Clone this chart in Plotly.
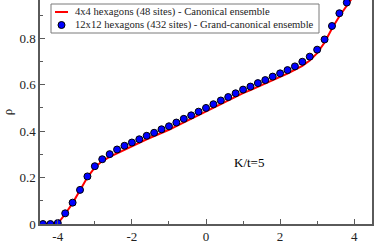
import plotly.graph_objects as go

# Chemical potential grid (mu/t)
x_vals = [-4.4, -4.2, -4.0, -3.8, -3.6, -3.4, -3.2, -3.0, -2.8, -2.6, -2.4, -2.2,
          -2.0, -1.8, -1.6, -1.4, -1.2, -1.0, -0.8, -0.6, -0.4, -0.2, 0.0, 0.2,
          0.4, 0.6, 0.8, 1.0, 1.2, 1.4, 1.6, 1.8, 2.0, 2.2, 2.4, 2.6, 2.8, 3.0,
          3.2, 3.4, 3.6, 3.8, 4.0, 4.2, 4.4]

# 4x4 hexagons (48 sites) - canonical ensemble (line)
rho_canonical = [0.0, 0.0, 0.002, 0.043, 0.09, 0.145, 0.201, 0.244, 0.271, 0.289, 0.305, 0.321,
                 0.336, 0.350, 0.365, 0.378, 0.393, 0.406, 0.422, 0.438, 0.453, 0.469, 0.485, 0.501,
                 0.517, 0.532, 0.548, 0.564, 0.577, 0.592, 0.605, 0.620, 0.634, 0.648, 0.663, 0.681, 0.704, 0.736,
                 0.782, 0.842, 0.895, 0.944, 0.986, 1.0, 1.0]

# 12x12 hexagons (432 sites) - grand-canonical ensemble (markers)
rho_grand = [0.0, 0.0, 0.004, 0.046, 0.092, 0.147, 0.205, 0.249, 0.279, 0.301, 0.321, 0.337,
             0.351, 0.365, 0.380, 0.393, 0.408, 0.421, 0.437, 0.453, 0.468, 0.484, 0.500, 0.516,
             0.532, 0.547, 0.563, 0.579, 0.592, 0.607, 0.620, 0.635, 0.649, 0.663, 0.679, 0.699, 0.721, 0.751,
             0.795, 0.853, 0.908, 0.954, 0.996, 1.0, 1.0]

series_names = ["4x4 hexagons (48 sites) - Canonical ensemble",
                "12x12 hexagons (432 sites) - Grand-canonical ensemble"]

x_tickvals = [-4, -2, 0, 2, 4]
x_ticktext = ["-4", "-2", "0", "2", "4"]
y_tickvals = [0, 0.2, 0.4, 0.6, 0.8]
y_ticktext = ["0", "0.2", "0.4", "0.6", "0.8"]

serif = "Liberation Serif, Times New Roman, serif"
axis_color = "#5a5a5a"
line_color = "#ff0000"
marker_color = "#0000ff"

W, H = 374, 243
ML, MR, MT, MB = 40, 2, 0, 19
PW, PH = W - ML - MR, H - MT - MB


def px(xp):
    return (xp - ML) / PW


def py(yp):
    return (H - MB - yp) / PH


fig = go.Figure()
fig.add_trace(go.Scatter(
    x=x_vals, y=rho_canonical, mode="lines",
    line=dict(color=line_color, width=2),
    name=series_names[0]))
fig.add_trace(go.Scatter(
    x=x_vals, y=rho_grand, mode="markers",
    marker=dict(color=marker_color, size=7, line=dict(color="#000000", width=1)),
    name=series_names[1]))

fig.add_annotation(x=1.15, y=0.264, text="K/t=5", showarrow=False,
                   font=dict(family=serif, size=13, color="#000000"))

# Legend box (drawn to match the compact original layout)
shapes = [
    dict(type="rect", xref="paper", yref="paper",
         x0=px(51), x1=px(319), y0=py(33), y1=py(4),
         line=dict(color="#7a7a7a", width=1), fillcolor="white", layer="above"),
    dict(type="line", xref="paper", yref="paper",
         x0=px(55), x1=px(68), y0=py(12), y1=py(12),
         line=dict(color=line_color, width=2), layer="above"),
    dict(type="circle", xref="paper", yref="paper",
         xsizemode="pixel", ysizemode="pixel",
         xanchor=px(61.5), yanchor=py(25), x0=-3.5, x1=3.5, y0=-3.5, y1=3.5,
         line=dict(color="#000000", width=1), fillcolor=marker_color, layer="above"),
]
for name, yrow in zip(series_names, [12, 25]):
    fig.add_annotation(xref="paper", yref="paper", x=px(73), y=py(yrow),
                       xanchor="left", yanchor="middle", showarrow=False,
                       text=name, font=dict(family=serif, size=10.6, color="#222222"))

fig.update_layout(
    template="none",
    width=W, height=H,
    margin=dict(l=ML, r=MR, t=MT, b=MB, pad=0),
    paper_bgcolor="white", plot_bgcolor="white",
    font=dict(family=serif, size=13, color="#222222"),
    showlegend=False,
    shapes=shapes,
    xaxis=dict(range=[-4.48, 4.48], showgrid=False, zeroline=False, automargin=False,
               showline=True, linecolor=axis_color, linewidth=1.5,
               ticks="inside", ticklen=5, tickcolor=axis_color,
               tickvals=x_tickvals, ticktext=x_ticktext,
               minor=dict(dtick=1, tick0=1, ticks="inside", ticklen=3, tickcolor=axis_color),
               tickfont=dict(family=serif, size=13)),
    yaxis=dict(range=[0, 0.965], showgrid=False, zeroline=False, automargin=False,
               showline=True, linecolor=axis_color, linewidth=1.5, mirror=True,
               ticks="inside", ticklen=5, tickcolor=axis_color,
               tickvals=y_tickvals, ticktext=y_ticktext,
               minor=dict(dtick=0.1, tick0=0, ticks="inside", ticklen=3, tickcolor=axis_color),
               tickfont=dict(family=serif, size=13),
               title=dict(text="ρ", font=dict(family=serif, size=13), standoff=8)),
)

fig.write_html("out.html",
               config={"displayModeBar": False},
               post_script="document.body.style.margin='0';document.body.style.padding='0';")
